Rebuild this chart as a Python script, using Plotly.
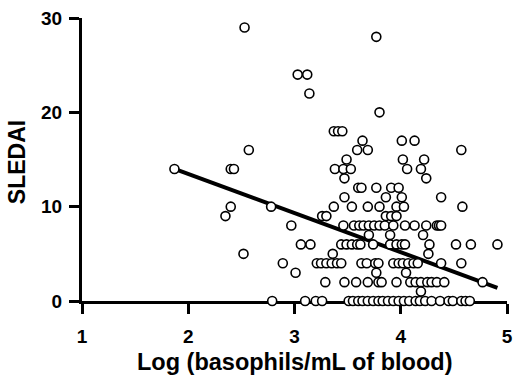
import plotly.graph_objects as go

# SLEDAI level -> list of log(basophils/mL) values
levels = {
    29: [2.53],
    28: [3.77],
    24: [3.03, 3.12],
    22: [3.14],
    20: [3.80],
    18: [3.37, 3.41, 3.45],
    17: [3.64, 4.01, 4.13],
    16: [2.57, 3.59, 3.69, 4.57],
    15: [3.49, 4.02, 4.22],
    14: [1.87, 2.40, 2.43, 3.38, 3.46, 3.53, 4.06, 4.19],
    13: [3.47, 4.24],
    12: [3.60, 3.63, 3.77, 3.91, 3.98],
    11: [3.47, 3.86, 4.01, 4.38],
    10: [2.40, 2.78, 3.37, 3.54, 3.69, 3.80, 3.96, 4.03, 4.58],
    9: [2.35, 3.26, 3.30, 3.86, 3.91, 3.96],
    8: [2.97, 3.46, 3.56, 3.61, 3.65, 3.70, 3.75, 3.80, 3.85, 3.93, 4.04, 4.13,
        4.24, 4.34, 4.36, 4.38],
    7: [3.70, 3.90, 4.21],
    6: [3.06, 3.15, 3.44, 3.49, 3.54, 3.59, 3.62, 3.74, 3.90, 3.96, 4.01, 4.04,
        4.27, 4.52, 4.66, 4.91],
    5: [2.52, 3.36, 4.26],
    4: [2.89, 3.21, 3.25, 3.30, 3.35, 3.40, 3.44, 3.63, 3.68, 3.76, 3.79, 3.93,
        3.98, 4.02, 4.07, 4.12, 4.16, 4.38, 4.57],
    3: [3.01, 3.77, 4.05],
    2: [3.29, 3.47, 3.58, 3.69, 3.79, 3.82, 3.96, 4.09, 4.14, 4.19, 4.25, 4.29,
        4.34, 4.41, 4.77],
    1: [4.19],
    0: [2.79, 3.10, 3.20, 3.26, 3.51, 3.55, 3.60, 3.64, 3.69, 3.74, 3.79, 3.83,
        3.88, 3.93, 3.98, 4.03, 4.08, 4.14, 4.18, 4.23, 4.29, 4.37, 4.45, 4.49,
        4.57, 4.61, 4.65],
}

fit_x = [1.87, 4.91]
fit_y = [14.0, 1.4]

x_ticks = [1, 2, 3, 4, 5]
y_ticks = [0, 10, 20, 30]
x_title = "Log (basophils/mL of blood)"
y_title = "SLEDAI"

xs, ys = [], []
for lvl, vals in levels.items():
    for v in vals:
        xs.append(v)
        ys.append(lvl)

fig = go.Figure()
fig.add_trace(go.Scatter(
    x=fit_x, y=fit_y, mode="lines",
    line=dict(color="black", width=4), showlegend=False, hoverinfo="skip"))
fig.add_trace(go.Scatter(
    x=xs, y=ys, mode="markers", cliponaxis=False,
    marker=dict(size=9, color="white", line=dict(color="black", width=1.6)),
    showlegend=False))

font_family = "Liberation Sans, Arial, sans-serif"
fig.update_layout(
    width=513, height=378,
    margin=dict(l=82, r=6, t=18, b=77),
    paper_bgcolor="white", plot_bgcolor="white",
    font=dict(family=font_family, color="black"),
    annotations=[
        dict(text=f"<b>{x_title}</b>", xref="paper", yref="paper",
             x=0.5, y=-0.215, xanchor="center", yanchor="middle",
             showarrow=False, font=dict(size=23.5)),
        dict(text=f"<b>{y_title}</b>", xref="paper", yref="paper",
             x=-0.151, y=0.49, xanchor="center", yanchor="middle",
             textangle=-90, showarrow=False, font=dict(size=23)),
    ],
)
fig.update_xaxes(
    range=[1, 5], tickvals=x_ticks, ticktext=[f"<b>{t}</b>" for t in x_ticks],
    showgrid=False, zeroline=False, showline=True, linecolor="black", linewidth=3,
    ticks="outside", ticklen=10, tickwidth=2.5, tickcolor="black",
    ticklabelstandoff=6, tickfont=dict(size=19), layer="below traces",
    automargin=False,
)
fig.update_yaxes(
    range=[0, 30], tickvals=y_ticks, ticktext=[f"<b>{t}</b>" for t in y_ticks],
    showgrid=False, zeroline=False, showline=True, linecolor="black", linewidth=3,
    ticks="outside", ticklen=10, tickwidth=2.5, tickcolor="black",
    ticklabelstandoff=3, tickfont=dict(size=19), layer="below traces",
    automargin=False,
)

fig.write_html(
    "out.html",
    config={"displayModeBar": False},
    post_script="document.body.style.margin='0';document.body.style.overflow='hidden';",
)
